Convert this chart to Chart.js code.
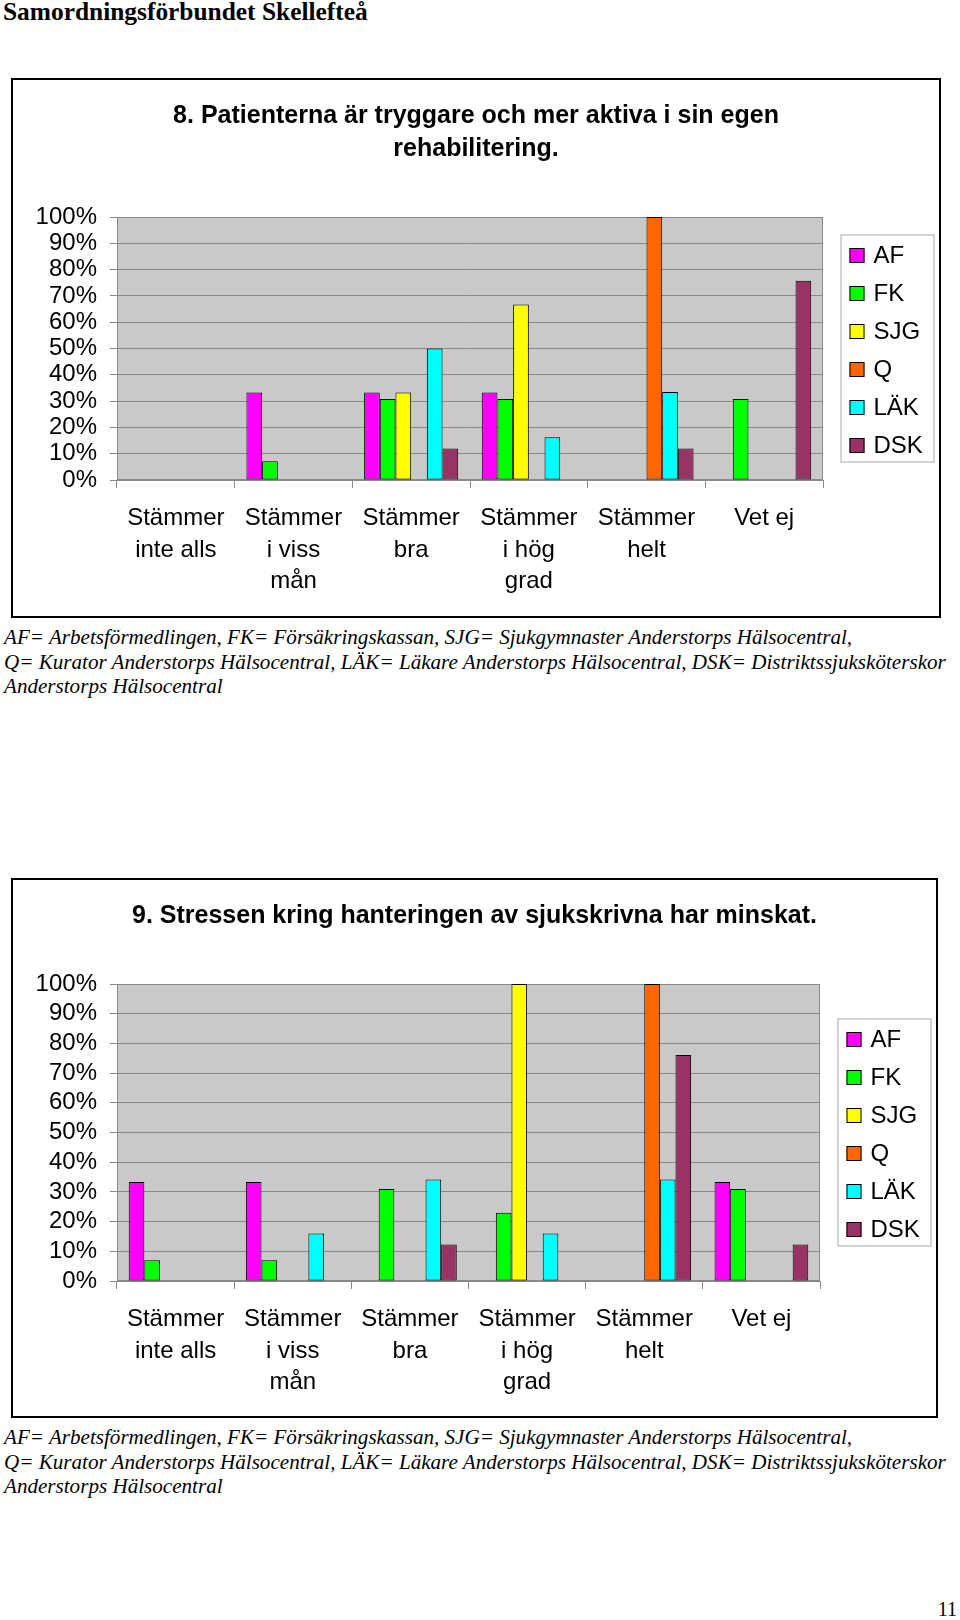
<!DOCTYPE html>
<html>
<head>
<meta charset="utf-8">
<title>Samordningsförbundet Skellefteå</title>
<script src="https://cdn.jsdelivr.net/npm/chart.js@4.4.0/dist/chart.umd.min.js"></script>
<style>
body { margin: 0; width: 960px; height: 1620px; position: relative; background: #fff; font-family: 'Liberation Serif', 'Times New Roman', serif; overflow: hidden; }
.header { position: absolute; left: 3px; top: -1px; font-weight: bold; font-size: 25.4px; line-height: 25px; }
.box { position: absolute; left: 11px; border: 2px solid #000; background: #fff; }
.box canvas { display: block; }
.note { position: absolute; left: 4px; font-style: italic; font-size: 21.1px; line-height: 24.5px; white-space: nowrap; }
.pagenr { position: absolute; right: 3px; top: 1599px; font-size: 20px; line-height: 20px; }
</style>
</head>
<body>
<div class="header">Samordningsförbundet Skellefteå</div>

<div class="box" style="top:78px;"><canvas id="chart8" width="926" height="536"></canvas></div>
<div class="note" style="top:625px;">AF= Arbetsförmedlingen, FK= Försäkringskassan, SJG= Sjukgymnaster Anderstorps Hälsocentral,<br>Q= Kurator Anderstorps Hälsocentral, LÄK= Läkare Anderstorps Hälsocentral, DSK= Distriktssjuksköterskor<br>Anderstorps Hälsocentral</div>

<div class="box" style="top:878px;"><canvas id="chart9" width="923" height="536"></canvas></div>
<div class="note" style="top:1425px;">AF= Arbetsförmedlingen, FK= Försäkringskassan, SJG= Sjukgymnaster Anderstorps Hälsocentral,<br>Q= Kurator Anderstorps Hälsocentral, LÄK= Läkare Anderstorps Hälsocentral, DSK= Distriktssjuksköterskor<br>Anderstorps Hälsocentral</div>

<div class="pagenr">11</div>

<script>
// categories and series
const categories = [
    ['Stämmer', 'inte alls'],
    ['Stämmer', 'i viss', 'mån'],
    ['Stämmer', 'bra'],
    ['Stämmer', 'i hög', 'grad'],
    ['Stämmer', 'helt'],
    ['Vet ej']
];
const seriesNames = ['AF', 'FK', 'SJG', 'Q', 'LÄK', 'DSK'];
const seriesColors = ['#ff00ff', '#00ff00', '#ffff00', '#ff6600', '#00ffff', '#993366'];

// 8. Patienterna är tryggare ... (percent)
const q8AF  = [null, 33.3, 33.3, 33.3, null, null];
const q8FK  = [null, 7.1, 30.8, 30.8, null, 30.8];
const q8SJG = [null, null, 33.3, 66.7, null, null];
const q8Q   = [null, null, null, null, 100, null];
const q8LAK = [null, null, 50, 16.3, 33.5, null];
const q8DSK = [null, null, 12, null, 12, 75.8];

// 9. Stressen kring hanteringen ... (percent)
const q9AF  = [33.3, 33.3, null, null, null, 33.3];
const q9FK  = [7, 7, 31, 23, null, 31];
const q9SJG = [null, null, null, 100, null, null];
const q9Q   = [null, null, null, null, 100, null];
const q9LAK = [null, 16, 34.2, 16, 34.2, null];
const q9DSK = [null, null, 12.3, null, 76.1, 12.3];

Chart.defaults.font.family = "'Liberation Sans', Arial, sans-serif";
Chart.defaults.color = '#000';

// grey plot area like Excel
const plotBackground = {
    id: 'plotBackground',
    beforeDraw(chart) {
        const ctx = chart.ctx;
        const a = chart.chartArea;
        ctx.save();
        ctx.fillStyle = '#c9c9c9';
        ctx.fillRect(a.left, a.top, a.right - a.left, a.bottom - a.top);
        ctx.strokeStyle = '#888';
        ctx.lineWidth = 1;
        ctx.strokeRect(a.left + 0.5, a.top + 0.5, a.right - a.left - 1, a.bottom - a.top - 1);
        ctx.restore();
    }
};

// legend in a framed box to the right of the plot
const boxLegend = {
    id: 'boxLegend',
    afterDraw(chart) {
        const ctx = chart.ctx;
        const a = chart.chartArea;
        const left = a.right + 17.5;
        const top = (a.top + a.bottom) / 2 - 114;
        ctx.save();
        ctx.fillStyle = '#fff';
        ctx.fillRect(left, top, 93.5, 228);
        ctx.strokeStyle = '#a8a8a8';
        ctx.lineWidth = 1;
        ctx.strokeRect(left + 0.5, top + 0.5, 93, 227);
        ctx.font = "24px 'Liberation Sans', Arial, sans-serif";
        ctx.textBaseline = 'middle';
        chart.data.datasets.forEach((ds, i) => {
            const y = top + 21 + i * 38;
            ctx.fillStyle = ds.backgroundColor;
            ctx.fillRect(left + 9, y - 7.5, 15, 15);
            ctx.strokeStyle = '#000';
            ctx.strokeRect(left + 9.5, y - 7, 14, 14);
            ctx.fillStyle = '#000';
            ctx.fillText(ds.label, left + 33, y + 1);
        });
        ctx.restore();
    }
};

function makeChart(id, titleLines, values, xAxisHeight) {
    const ctx = document.getElementById(id).getContext('2d');
    return new Chart(ctx, {
        type: 'bar',
        data: {
            labels: categories,
            datasets: seriesNames.map((name, i) => ({
                label: name,
                data: values[i],
                backgroundColor: seriesColors[i],
                borderColor: '#000',
                borderWidth: 1,
                borderSkipped: false,
                barPercentage: 1,
                categoryPercentage: 0.8
            }))
        },
        options: {
            responsive: false,
            animation: false,
            plugins: {
                legend: { display: false },
                tooltip: { enabled: false },
                title: {
                    display: true,
                    text: titleLines,
                    color: '#000',
                    font: { size: 25, weight: 'bold', lineHeight: 1.32 },
                    padding: { top: 19.5, bottom: 51.5 }
                }
            },
            scales: {
                x: {
                    grid: { display: true, drawOnChartArea: false, drawTicks: true, tickLength: 8, color: '#888', offset: true },
                    border: { display: false },
                    ticks: {
                        autoSkip: false,
                        maxRotation: 0,
                        padding: 15,
                        font: { size: 24, lineHeight: 1.3125 }
                    },
                    afterFit(scale) { scale.height = xAxisHeight; }
                },
                y: {
                    min: 0,
                    max: 100,
                    grid: { color: '#888', tickLength: 7 },
                    border: { display: true, color: '#888' },
                    ticks: {
                        stepSize: 10,
                        autoSkip: false,
                        padding: 13,
                        font: { size: 24 },
                        callback: v => v + '%'
                    },
                    afterFit(scale) { scale.width = 104; }
                },
                // empty axis that keeps room for the legend box
                legendSpace: {
                    type: 'linear',
                    position: 'right',
                    grid: { display: false },
                    border: { display: false },
                    ticks: { display: false },
                    afterFit(scale) { scale.width = 116; }
                }
            }
        },
        plugins: [plotBackground, boxLegend]
    });
}

makeChart('chart8',
    ['8. Patienterna är tryggare och mer aktiva i sin egen', 'rehabilitering.'],
    [q8AF, q8FK, q8SJG, q8Q, q8LAK, q8DSK], 136);

makeChart('chart9',
    '9. Stressen kring hanteringen av sjukskrivna har minskat.',
    [q9AF, q9FK, q9SJG, q9Q, q9LAK, q9DSK], 135);
</script>
</body>
</html>
